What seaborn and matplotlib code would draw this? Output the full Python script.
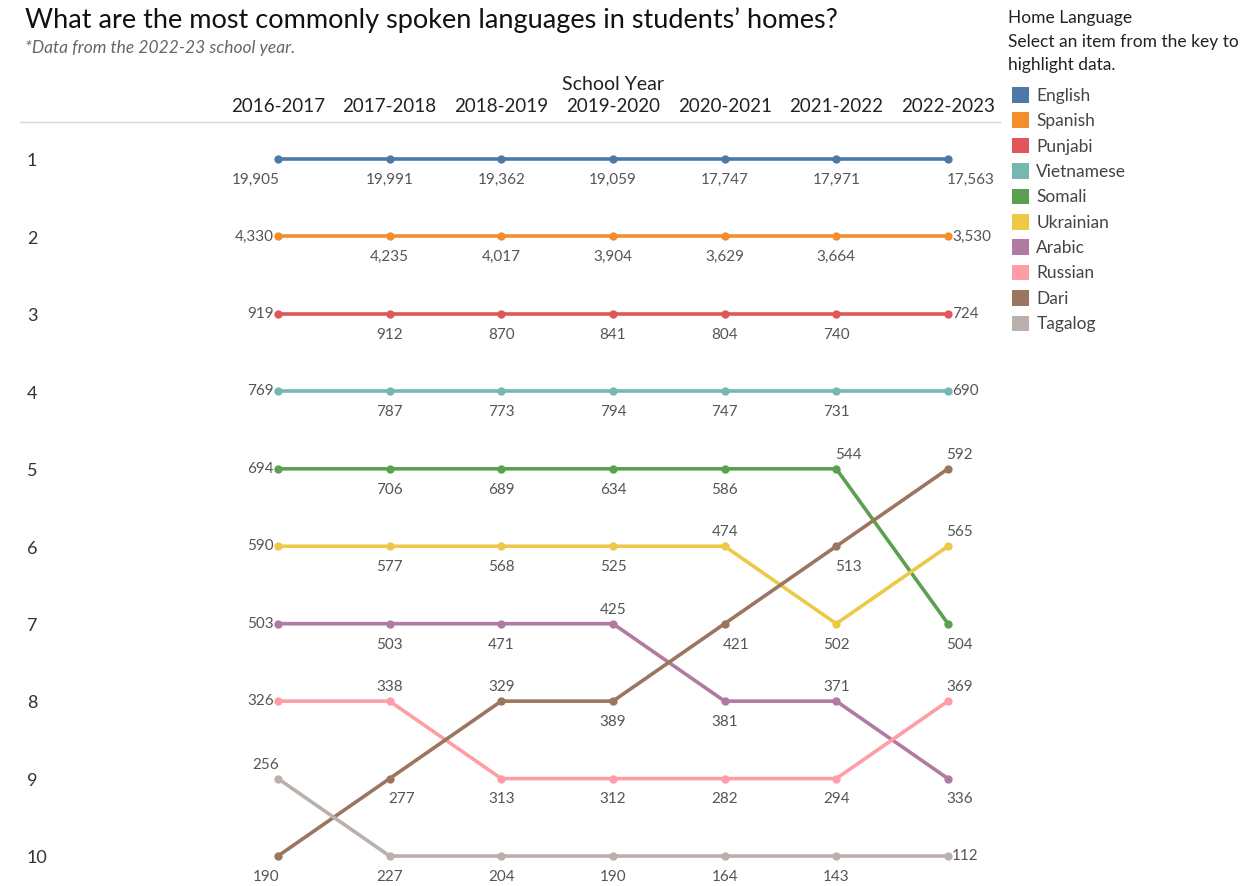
import matplotlib
matplotlib.use("Agg")
import matplotlib.pyplot as plt
from matplotlib.patches import Patch
import pandas as pd
import seaborn as sns

# ── data ──────────────────────────────────────────────
years = ["2016-2017", "2017-2018", "2018-2019", "2019-2020",
         "2020-2021", "2021-2022", "2022-2023"]
languages = ["English", "Spanish", "Punjabi", "Vietnamese", "Somali",
             "Ukrainian", "Arabic", "Russian", "Dari", "Tagalog"]
colors = ["#4E79A7", "#F28E2B", "#E15759", "#76B7B2", "#59A14F",
          "#EDC948", "#B07AA1", "#FF9DA7", "#9C755F", "#BAB0AC"]

counts = {
    "English":    [19905, 19991, 19362, 19059, 17747, 17971, 17563],
    "Spanish":    [4330, 4235, 4017, 3904, 3629, 3664, 3530],
    "Punjabi":    [919, 912, 870, 841, 804, 740, 724],
    "Vietnamese": [769, 787, 773, 794, 747, 731, 690],
    "Somali":     [694, 706, 689, 634, 586, 544, 504],
    "Ukrainian":  [590, 577, 568, 525, 474, 502, 565],
    "Arabic":     [503, 503, 471, 425, 381, 371, 336],
    "Russian":    [326, 338, 313, 312, 282, 294, 369],
    "Dari":       [190, 277, 329, 389, 421, 513, 592],
    "Tagalog":    [256, 227, 204, 190, 164, 143, 112],
}
ranks = {
    "English":    [1, 1, 1, 1, 1, 1, 1],
    "Spanish":    [2, 2, 2, 2, 2, 2, 2],
    "Punjabi":    [3, 3, 3, 3, 3, 3, 3],
    "Vietnamese": [4, 4, 4, 4, 4, 4, 4],
    "Somali":     [5, 5, 5, 5, 5, 5, 7],
    "Ukrainian":  [6, 6, 6, 6, 6, 7, 6],
    "Arabic":     [7, 7, 7, 7, 8, 8, 9],
    "Russian":    [8, 8, 9, 9, 9, 9, 8],
    "Dari":       [10, 9, 8, 8, 7, 6, 5],
    "Tagalog":    [9, 10, 10, 10, 10, 10, 10],
}

# label placement per point (styling only)
std = ["l", "b", "b", "b", "b", "b", "r"]
placement = {
    "English":   ["bl", "b", "b", "b", "b", "b", "br"],
    "Somali":    ["l", "b", "b", "b", "b", "ar", "br"],
    "Ukrainian": ["l", "b", "b", "b", "a", "b", "ar"],
    "Arabic":    ["l", "b", "b", "a", "b", "a", "br"],
    "Russian":   ["l", "a", "b", "b", "b", "b", "ar"],
    "Dari":      ["bl", "br", "a", "b", "br", "br", "ar"],
    "Tagalog":   ["al", "b", "b", "b", "b", "b", "r"],
}

rows = []
for lang in languages:
    for i, yr in enumerate(years):
        rows.append({"language": lang, "x": i, "year": yr,
                     "rank": ranks[lang][i], "count": counts[lang][i]})
df = pd.DataFrame(rows)

# ── chart ─────────────────────────────────────────────
sns.set_theme(style="white")
plt.rcParams["font.family"] = ["Lato", "DejaVu Sans"]

W, H = 1251, 886
fig = plt.figure(figsize=(W / 100, H / 100), dpi=100)
ax = fig.add_axes([20 / W, 0, 980 / W, (H - 122) / H])

sns.lineplot(data=df, x="x", y="rank", hue="language", hue_order=languages,
             palette=colors, marker="o", markersize=6, markeredgewidth=0,
             linewidth=2.6, legend=False, sort=False, estimator=None, ax=ax)

ax.set_xlim(-2.310, 6.466)
ax.set_ylim(10.387, 0.522)

offsets = {
    "b":  ((0, -10), "center", "top"),
    "a":  ((0, 5), "center", "bottom"),
    "l":  ((-3, 0), "right", "center"),
    "r":  ((3, 0), "left", "center"),
    "bl": ((1, -10), "right", "top"),
    "br": ((-1, -10), "left", "top"),
    "al": ((1, 5), "right", "bottom"),
    "ar": ((-1, 5), "left", "bottom"),
}
for lang in languages:
    pl = placement.get(lang, std)
    for i in range(len(years)):
        (dx, dy), ha, va = offsets[pl[i]]
        ax.annotate(f"{counts[lang][i]:,}", (i, ranks[lang][i]),
                    xytext=(dx, dy), textcoords="offset points",
                    ha=ha, va=va, fontsize=11, color="#555555")

for r in range(1, 11):
    ax.text(0.007, r + 0.03, str(r), transform=ax.get_yaxis_transform(),
            ha="left", va="center", fontsize=13, color="#333333")

ax.xaxis.tick_top()
ax.set_xticks(range(len(years)))
ax.set_xticklabels(years, fontsize=13.5, color="#222222")
ax.tick_params(axis="x", length=0, pad=5)
ax.set_yticks([])
ax.set_xlabel(""); ax.set_ylabel("")
for side in ["left", "right", "bottom"]:
    ax.spines[side].set_visible(False)
ax.spines["top"].set_color("#d6d6d6")
ax.spines["top"].set_linewidth(1)

fig.text(613 / W, 1 - 84 / H, "School Year", ha="center", va="center",
         fontsize=14, color="#222222")
fig.text(25 / W, 1 - 20 / H,
         "What are the most commonly spoken languages in students\u2019 homes?",
         ha="left", va="center", fontsize=19.5, color="#111111")
fig.text(25 / W, 1 - 48 / H, "*Data from the 2022-23 school year.",
         ha="left", va="center", fontsize=12.5, style="italic", color="#666666")

# legend header
for k, line in enumerate(["Home Language", "Select an item from the key to",
                          "highlight data."]):
    fig.text(1008 / W, 1 - (18 + 23.5 * k) / H, line, ha="left", va="center",
             fontsize=12.5, color="#222222")

handles = [Patch(facecolor=c, edgecolor="none") for c in colors]
leg = fig.legend(handles, languages, loc="upper left",
                 bbox_to_anchor=(1012 / W, 1 - 87 / H), frameon=False,
                 fontsize=12.5, handlelength=1.0, handleheight=1.0,
                 handletextpad=0.4, labelspacing=0.5,
                 borderaxespad=0, borderpad=0)
for t in leg.get_texts():
    t.set_color("#444444")

fig.savefig("out.png", dpi=100)
plt.close()
